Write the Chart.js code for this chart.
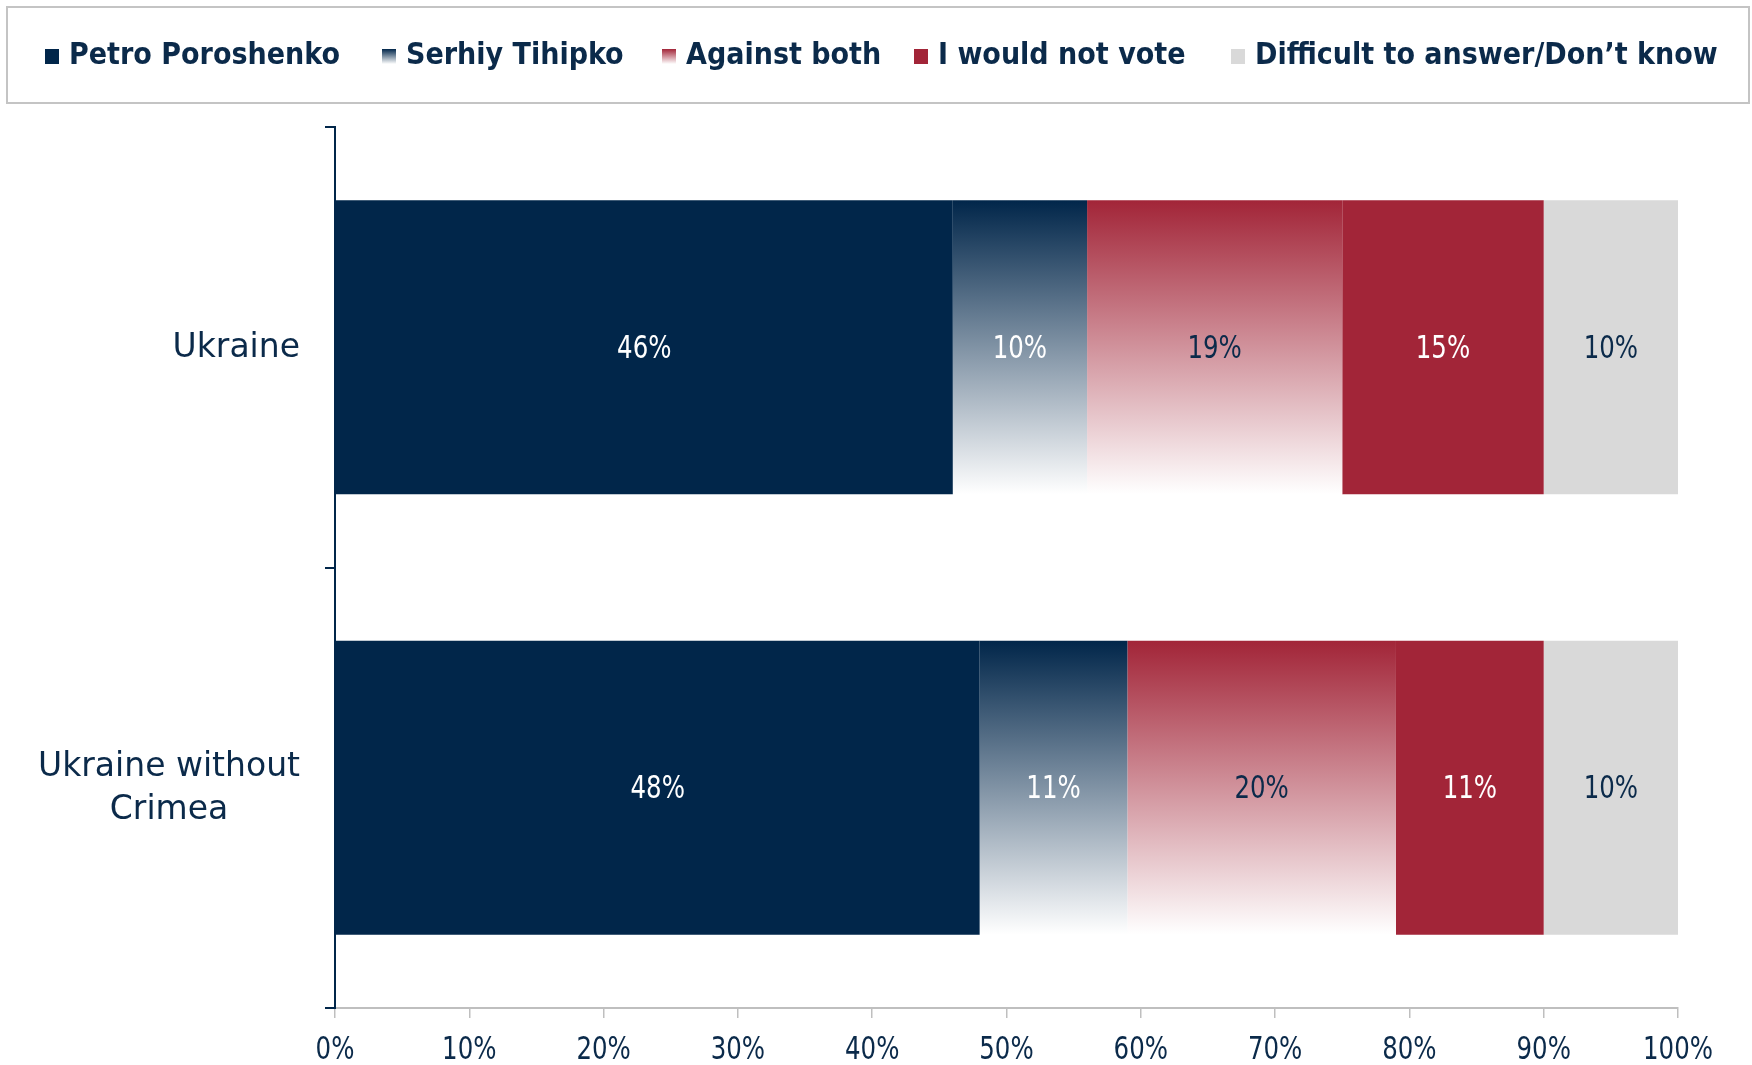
<!DOCTYPE html>
<html>
<head>
<meta charset="utf-8">
<script src="https://cdn.jsdelivr.net/npm/chart.js@4.4.1/dist/chart.umd.min.js"></script>
<style>
  html, body { margin: 0; padding: 0; background: #fff; }
  #wrap { position: relative; width: 1752px; height: 1065px; }
  #legend {
    position: absolute; left: 6px; top: 6px; width: 1744px; height: 98px;
    box-sizing: border-box; border: 2px solid #c4c4c4;
    font: bold 30px "DejaVu Sans Condensed", "DejaVu Sans", sans-serif;
    color: #0b2a4a; white-space: nowrap;
  }
  #legend .item { position: absolute; top: 28px; line-height: 36px; }
  .sw { display: inline-block; width: 14px; height: 15px; margin-right: 10px; vertical-align: baseline; }
  canvas { position: absolute; left: 0; top: 0; }
</style>
</head>
<body>
<div id="wrap">
  <canvas id="chart" width="1752" height="1065"></canvas>
  <div id="legend"></div>
</div>
<script>
// data
const categories = ["Ukraine", ["Ukraine without", "Crimea"]];
const seriesNames = ["Petro Poroshenko", "Serhiy Tihipko", "Against both", "I would not vote", "Difficult to answer/Don\u2019t know"];
const poroshenko = [46, 48];
const tihipko = [10, 11];
const againstBoth = [19, 20];
const notVote = [15, 11];
const dontKnow = [10, 10];
const xTicks = [0, 10, 20, 30, 40, 50, 60, 70, 80, 90, 100];

const NAVY = "#01264a";
const RED = "#a22538";
const GREY = "#d9d9d9";
const TEXT = "#0b2a4a";
const BAR_PCT = 0.667;
const NARROW = '32px "DejaVu Sans Condensed", "DejaVu Sans", sans-serif';
const SQUEEZE = 0.85;

// legend item left edges (inside the box)
const legendX = [37, 374, 654, 906, 1223];

// vertical gradient per bar: dark at the top, white at the bottom
function fadeFill(color) {
  return function (ctx) {
    const chart = ctx.chart;
    const y = chart.scales && chart.scales.y;
    if (ctx.type !== "data" || !y || !chart.chartArea) return color;
    const center = y.getPixelForValue(ctx.dataIndex);
    const half = (y.height / categories.length) * BAR_PCT / 2;
    const g = chart.ctx.createLinearGradient(0, center - half, 0, center + half);
    g.addColorStop(0, color);
    g.addColorStop(1, "#ffffff");
    return g;
  };
}

const series = [
  { data: poroshenko, fill: NAVY, swatch: NAVY, label: "#ffffff" },
  { data: tihipko, fill: fadeFill(NAVY), swatch: "linear-gradient(" + NAVY + ", #fff)", label: "#ffffff" },
  { data: againstBoth, fill: fadeFill(RED), swatch: "linear-gradient(" + RED + ", #fff)", label: TEXT },
  { data: notVote, fill: RED, swatch: RED, label: "#ffffff" },
  { data: dontKnow, fill: GREY, swatch: GREY, label: TEXT }
];


// ------------------------------
// LEGEND
// ------------------------------

const legend = document.getElementById("legend");
series.forEach((s, i) => {
  const item = document.createElement("div");
  item.className = "item";
  item.style.left = legendX[i] + "px";
  const sw = document.createElement("span");
  sw.className = "sw";
  sw.style.background = s.swatch;
  item.appendChild(sw);
  item.appendChild(document.createTextNode(seriesNames[i]));
  legend.appendChild(item);
});


// ------------------------------
// PLUGINS
// ------------------------------

function narrowText(ctx, text, x, y) {
  ctx.save();
  ctx.translate(x, y);
  ctx.scale(SQUEEZE, 1);
  ctx.fillText(text, 0, 0);
  ctx.restore();
}

const barLabels = {
  id: "barLabels",
  afterDatasetsDraw(chart) {
    const ctx = chart.ctx;
    ctx.save();
    ctx.font = NARROW;
    ctx.textAlign = "center";
    ctx.textBaseline = "middle";
    chart.data.datasets.forEach((ds, i) => {
      chart.getDatasetMeta(i).data.forEach((bar, j) => {
        const p = bar.getProps(["x", "y", "base"], true);
        ctx.fillStyle = series[i].label;
        narrowText(ctx, ds.data[j] + "%", (p.x + p.base) / 2, p.y + 2);
      });
    });
    ctx.restore();
  }
};

// x tick labels, narrow like the original
const xLabels = {
  id: "xLabels",
  afterDraw(chart) {
    const ctx = chart.ctx;
    const x = chart.scales.x;
    ctx.save();
    ctx.font = NARROW;
    ctx.fillStyle = TEXT;
    ctx.textAlign = "center";
    ctx.textBaseline = "middle";
    x.ticks.forEach(t => narrowText(ctx, t.value + "%", x.getPixelForValue(t.value), x.bottom - 14));
    ctx.restore();
  }
};

// category labels: block right-aligned, lines centred inside the block
const catLabels = {
  id: "catLabels",
  afterDraw(chart) {
    const ctx = chart.ctx;
    const y = chart.scales.y;
    const right = 300;
    const lineH = 43;
    ctx.save();
    ctx.font = '33px "DejaVu Sans", sans-serif';
    ctx.fillStyle = TEXT;
    ctx.textAlign = "center";
    ctx.textBaseline = "middle";
    categories.forEach((c, i) => {
      const lines = Array.isArray(c) ? c : [c];
      const w = Math.max(...lines.map(l => ctx.measureText(l).width));
      const cy = y.getPixelForValue(i);
      lines.forEach((l, k) => {
        ctx.fillText(l, right - w / 2, cy + 1 + (k - (lines.length - 1) / 2) * lineH);
      });
    });
    ctx.restore();
  }
};


// ------------------------------
// CHART
// ------------------------------

new Chart(document.getElementById("chart"), {
  type: "bar",
  data: {
    labels: categories,
    datasets: series.map((s, i) => ({
      label: seriesNames[i],
      data: s.data,
      backgroundColor: s.fill,
      borderWidth: 0,
      barPercentage: BAR_PCT,
      categoryPercentage: 1
    }))
  },
  options: {
    indexAxis: "y",
    responsive: false,
    animation: false,
    layout: { padding: { top: 127, right: 74, left: 0, bottom: 0 } },
    plugins: { legend: { display: false }, tooltip: { enabled: false } },
    scales: {
      x: {
        stacked: true,
        min: 0,
        max: 100,
        afterBuildTicks: axis => { axis.ticks = xTicks.map(v => ({ value: v })); },
        afterFit: axis => { axis.height = 57; },
        border: { color: "#bfbfbf", width: 2 },
        grid: { drawOnChartArea: false, color: "#bfbfbf", tickLength: 10, lineWidth: 1.5 },
        ticks: { display: false }
      },
      y: {
        stacked: true,
        afterFit: axis => { axis.width = 335; },
        border: { color: NAVY, width: 2 },
        grid: { drawOnChartArea: false, color: NAVY, tickLength: 10, lineWidth: 2 },
        ticks: { display: false }
      }
    }
  },
  plugins: [barLabels, xLabels, catLabels]
});
</script>
</body>
</html>
